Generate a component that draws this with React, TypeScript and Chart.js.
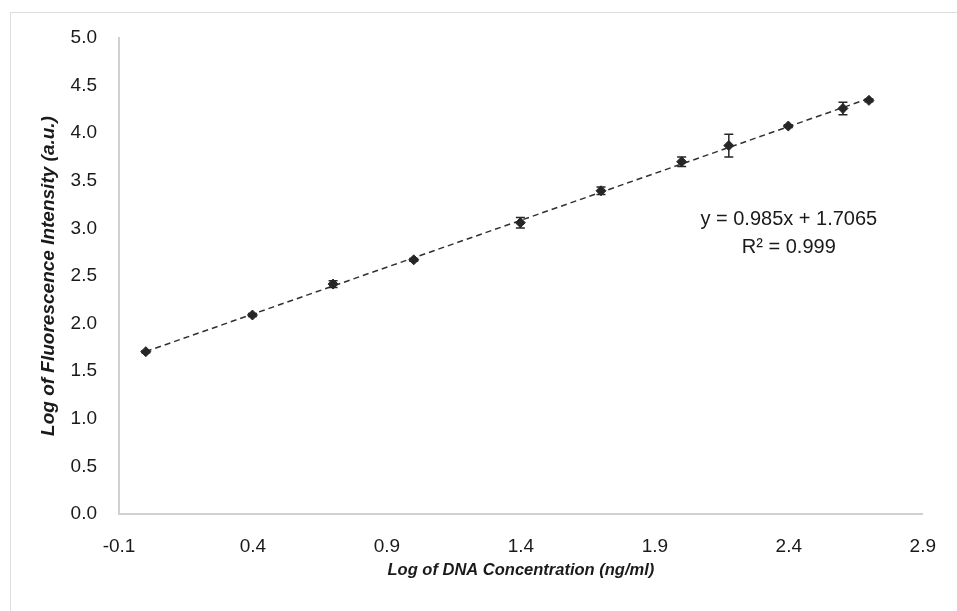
import React, { useEffect, useRef } from "react";
import { Chart, registerables } from "chart.js";

Chart.register(...registerables);

// Log of DNA concentration (ng/ml)
const xValues = [0, 0.398, 0.699, 1.0, 1.398, 1.699, 2.0, 2.176, 2.398, 2.602, 2.699];
// Log of fluorescence intensity (a.u.)
const yValues = [1.705, 2.09, 2.415, 2.67, 3.06, 3.395, 3.7, 3.87, 4.075, 4.26, 4.345];
// error (±)
const yErrors = [0.01, 0.015, 0.035, 0.015, 0.055, 0.04, 0.05, 0.12, 0.015, 0.065, 0.015];

// trendline endpoints
const trendX = [0, 2.699];
const trendY = [1.7065, 4.365];

const xTicks = [-0.1, 0.4, 0.9, 1.4, 1.9, 2.4, 2.9];
const yTicks = [0, 0.5, 1.0, 1.5, 2.0, 2.5, 3.0, 3.5, 4.0, 4.5, 5.0];

const equationLines = ["y = 0.985x + 1.7065", "R² = 0.999"];
const equationAt = [2.4, 3.09];

const xTitle = "Log of DNA Concentration (ng/ml)";
const yTitle = "Log of Fluorescence Intensity (a.u.)";

const FONT = "'Liberation Sans', Arial, sans-serif";
const DARK = "#262626";

const errorBarPlugin = {
  id: "errorBars",
  afterDatasetsDraw(chart: any) {
    const { ctx, scales } = chart;
    const x = scales.x;
    const y = scales.y;
    ctx.save();
    ctx.strokeStyle = DARK;
    ctx.lineWidth = 1.5;
    xValues.forEach((xv, i) => {
      const px = x.getPixelForValue(xv);
      const top = y.getPixelForValue(yValues[i] + yErrors[i]);
      const bot = y.getPixelForValue(yValues[i] - yErrors[i]);
      ctx.beginPath();
      ctx.moveTo(px, top);
      ctx.lineTo(px, bot);
      ctx.moveTo(px - 4.5, top);
      ctx.lineTo(px + 4.5, top);
      ctx.moveTo(px - 4.5, bot);
      ctx.lineTo(px + 4.5, bot);
      ctx.stroke();
    });
    ctx.restore();
  },
};

const equationPlugin = {
  id: "equation",
  afterDraw(chart: any) {
    const { ctx, scales } = chart;
    const px = scales.x.getPixelForValue(equationAt[0]);
    const py = scales.y.getPixelForValue(equationAt[1]);
    ctx.save();
    ctx.fillStyle = "#1a1a1a";
    ctx.font = `20px ${FONT}`;
    ctx.textAlign = "center";
    ctx.textBaseline = "middle";
    equationLines.forEach((t, i) => ctx.fillText(t, px, py + i * 28));
    ctx.restore();
  },
};

export default function App() {
  const canvasRef = useRef<HTMLCanvasElement | null>(null);

  useEffect(() => {
    const prevMargin = document.body.style.margin;
    document.body.style.margin = "0";
    const canvas = canvasRef.current;
    if (!canvas) return;
    const chart = new Chart(canvas, {
      type: "scatter",
      data: {
        datasets: [
          {
            label: "data",
            data: xValues.map((x, i) => ({ x, y: yValues[i] })),
            pointStyle: "rectRot",
            pointRadius: 5,
            pointBackgroundColor: DARK,
            pointBorderColor: DARK,
            pointBorderWidth: 1,
            showLine: false,
            order: 1,
          },
          {
            label: "trend",
            type: "line",
            data: trendX.map((x, i) => ({ x, y: trendY[i] })),
            borderColor: "#303030",
            borderWidth: 1.5,
            borderDash: [6, 4],
            pointRadius: 0,
            fill: false,
            order: 2,
          } as any,
        ],
      },
      options: {
        responsive: false,
        animation: false,
        layout: { padding: { left: 28, top: 38, right: 25, bottom: 30 } },
        plugins: {
          legend: { display: false },
          tooltip: { enabled: false },
        },
        scales: {
          x: {
            type: "linear",
            min: -0.1,
            max: 2.9,
            afterBuildTicks: (scale: any) => {
              scale.ticks = xTicks.map((v) => ({ value: v }));
            },
            afterFit: (scale: any) => {
              scale.height = 67;
            },
            grid: { display: false, drawTicks: false },
            border: { display: true, color: "#d0d0d0", width: 2 },
            ticks: {
              padding: 21,
              color: "#1a1a1a",
              font: { family: FONT, size: 19 },
              maxRotation: 0,
              callback: (v: any) => Number(v).toFixed(1),
            },
            title: {
              display: true,
              text: xTitle,
              color: "#1a1a1a",
              padding: { top: 0, bottom: 1 },
              font: { family: FONT, size: 16.5, weight: "bold", style: "italic" },
            },
          },
          y: {
            type: "linear",
            min: 0,
            max: 5,
            afterBuildTicks: (scale: any) => {
              scale.ticks = yTicks.map((v) => ({ value: v }));
            },
            afterFit: (scale: any) => {
              scale.width = 91;
            },
            grid: { display: false, drawTicks: false },
            border: { display: true, color: "#d0d0d0", width: 2 },
            ticks: {
              padding: 22,
              color: "#1a1a1a",
              font: { family: FONT, size: 19 },
              callback: (v: any) => Number(v).toFixed(1),
            },
            title: {
              display: true,
              text: yTitle,
              color: "#1a1a1a",
              padding: { top: 9, bottom: 0 },
              font: { family: FONT, size: 19, weight: "bold", style: "italic" },
            },
          },
        },
      },
      plugins: [errorBarPlugin, equationPlugin],
    });
    return () => {
      chart.destroy();
      document.body.style.margin = prevMargin;
    };
  }, []);

  return (
    <div
      style={{
        position: "absolute",
        left: 0,
        top: 0,
        width: 957,
        height: 611,
        overflow: "hidden",
        background: "#fff",
      }}
    >
      <div
        style={{
          position: "absolute",
          left: 10,
          top: 12,
          width: 980,
          height: 640,
          border: "1px solid #dedede",
        }}
      />
      <canvas
        ref={canvasRef}
        width={957}
        height={611}
        style={{ position: "absolute", left: 0, top: 0, display: "block" }}
      />
    </div>
  );
}
